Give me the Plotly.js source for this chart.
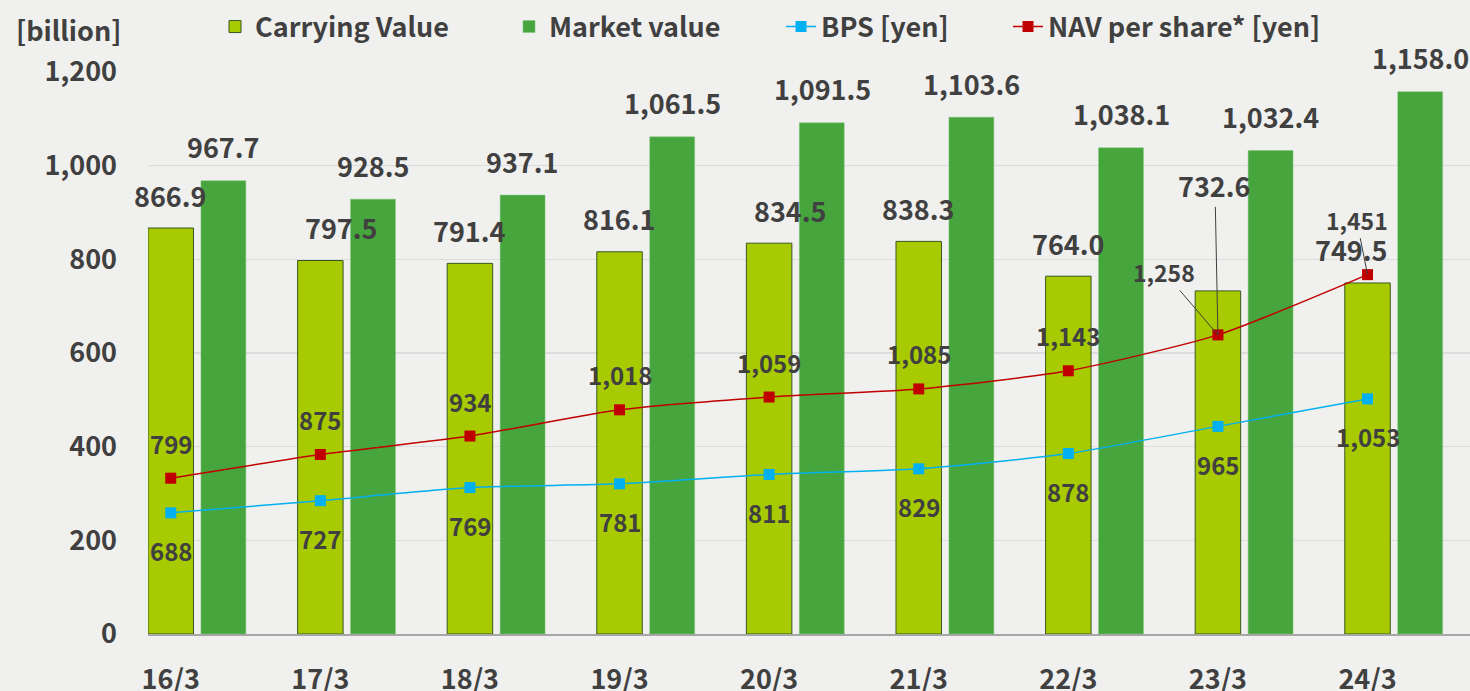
<!DOCTYPE html>
<html>
<head>
<meta charset="utf-8">
<script src="https://cdn.plot.ly/plotly-3.0.1.min.js"></script>
<style>
html,body{margin:0;padding:0;background:#F0F0EE;}
#chart{width:1470px;height:691px;}
</style>
</head>
<body>
<div id="chart"></div>
<script>
// ---- data ----
const categories = ["16/3","17/3","18/3","19/3","20/3","21/3","22/3","23/3","24/3"];
const carryingValue = [866.9, 797.5, 791.4, 816.1, 834.5, 838.3, 764.0, 732.6, 749.5];
const marketValue = [967.7, 928.5, 937.1, 1061.5, 1091.5, 1103.6, 1038.1, 1032.4, 1158.0];
const bps = [688, 727, 769, 781, 811, 829, 878, 965, 1053];
const navPerShare = [799, 875, 934, 1018, 1059, 1085, 1143, 1258, 1451];
const yTicks = [0, 200, 400, 600, 800, 1000, 1200];

// ---- styles ----
const FONT = "Noto Sans CJK JP";
const TXT = "#404040";
const f = (s) => ({family: FONT, size: s, color: TXT, weight: 700});
const fmt1 = v => v.toLocaleString("en-US", {minimumFractionDigits: 1, maximumFractionDigits: 1});
const fmt0 = v => v.toLocaleString("en-US");

// label pixel adjustments (layout only)
const carryShiftX = [0, 21, 0, 0, 21, 0, 0, 0, -16];
const MARKET_DX = 53;

const traces = [
  {type: "bar", name: "Carrying Value", x: categories, y: carryingValue,
   offset: -0.152, width: 0.304,
   marker: {color: "#A8CA00", line: {color: "#385723", width: 1}},
   legend: "legend", hoverinfo: "skip"},
  {type: "bar", name: "Market value", x: categories, y: marketValue,
   offset: 0.202, width: 0.30,
   marker: {color: "#47A53E", line: {color: "#7CC477", width: 0.5}},
   legend: "legend2", hoverinfo: "skip"},
  {type: "scatter", mode: "lines+markers", name: "BPS [yen]", x: categories, y: bps,
   yaxis: "y2", line: {color: "#00B0F0", width: 1.5, shape: "spline", smoothing: 0.6},
   marker: {symbol: "square", size: 11, color: "#00B0F0"},
   legend: "legend3", hoverinfo: "skip"},
  {type: "scatter", mode: "lines+markers", name: "NAV per share* [yen]", x: categories, y: navPerShare,
   yaxis: "y2", line: {color: "#C00000", width: 1.5, shape: "spline", smoothing: 0.6},
   marker: {symbol: "square", size: 11, color: "#C00000"},
   legend: "legend4", hoverinfo: "skip"}
];

const annotations = [];
categories.forEach((c, i) => {
  // market value labels
  annotations.push({x: c, y: marketValue[i], xref: "x", yref: "y", text: fmt1(marketValue[i]),
    showarrow: false, xshift: MARKET_DX, yshift: 34, font: f(27)});
  // carrying value labels
  if (i === 7) {
    annotations.push({x: c, y: navPerShare[i], xref: "x", yref: "y2", text: fmt1(carryingValue[i]),
      showarrow: true, arrowhead: 0, arrowwidth: 1, arrowcolor: "#404040",
      ax: -3, ay: -149, font: f(27)});
  } else {
    annotations.push({x: c, y: carryingValue[i], xref: "x", yref: "y", text: fmt1(carryingValue[i]),
      showarrow: false, xshift: carryShiftX[i], yshift: 33, font: f(27)});
  }
  // NAV labels
  if (i === 7) {
    annotations.push({x: c, y: navPerShare[i], xref: "x", yref: "y2", text: fmt0(navPerShare[i]),
      showarrow: true, arrowhead: 0, arrowwidth: 1, arrowcolor: "#404040",
      ax: -54, ay: -63, font: f(23)});
  } else if (i === 8) {
    annotations.push({x: c, y: navPerShare[i], xref: "x", yref: "y2", text: fmt0(navPerShare[i]),
      showarrow: true, arrowhead: 0, arrowwidth: 1, arrowcolor: "#404040",
      ax: -11, ay: -55, font: f(23)});
  } else {
    annotations.push({x: c, y: navPerShare[i], xref: "x", yref: "y2", text: fmt0(navPerShare[i]),
      showarrow: false, yshift: 35, font: f(24)});
  }
  // BPS labels
  annotations.push({x: c, y: bps[i], xref: "x", yref: "y2", text: fmt0(bps[i]),
    showarrow: false, yshift: -38, font: f(24)});
});

const L = 148, R = 0, T = 72, B = 57, W = 1470, H = 691;
const pw = W - L - R, ph = H - T - B;
annotations.push({x: (14 - L) / pw, xanchor: "left", y: 1 + (T - 30) / ph, yanchor: "middle",
  xref: "paper", yref: "paper", text: "[billion]", showarrow: false, font: f(27)});

const legY = 1 + (T - 27) / ph;
const leg = (px) => ({x: (px - L) / pw, xanchor: "left", y: legY, yanchor: "middle",
  orientation: "h", bgcolor: "rgba(0,0,0,0)", font: f(27), itemwidth: 30});

const layout = {
  width: W, height: H,
  margin: {l: L, r: R, t: T, b: B, pad: 0},
  paper_bgcolor: "#F0F0EE", plot_bgcolor: "#F0F0EE",
  barmode: "overlay",
  showlegend: true,
  legend: leg(215), legend2: leg(509), legend3: leg(781), legend4: leg(1008),
  xaxis: {type: "category", range: [-0.152, 8.685], showgrid: false, zeroline: false,
    showline: true, linecolor: "#A6A6A6", linewidth: 2, ticks: "",
    tickfont: f(27), ticklabelstandoff: 21, fixedrange: true},
  yaxis: {range: [0, 1200], tickvals: yTicks, ticktext: yTicks.map(fmt0),
    showgrid: true, gridcolor: "#DCDCDC", gridwidth: 1.5, zeroline: false, showline: false,
    ticks: "", tickfont: f(27), ticklabelstandoff: 30, fixedrange: true},
  yaxis2: {range: [300, 2100], overlaying: "y", side: "right", showgrid: false,
    zeroline: false, showticklabels: false, ticks: "", fixedrange: true},
  annotations: annotations,
  font: {family: FONT, color: TXT}
};

Plotly.newPlot("chart", traces, layout, {displayModeBar: false, staticPlot: true});
</script>
</body>
</html>
